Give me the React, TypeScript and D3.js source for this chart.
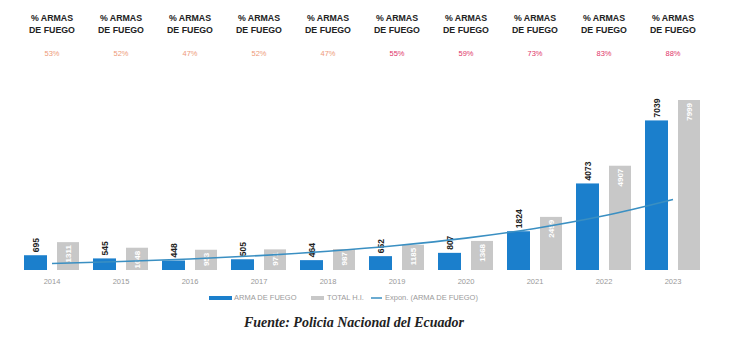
import React from "react";
import * as d3 from "d3";

const years = ["2014", "2015", "2016", "2017", "2018", "2019", "2020", "2021", "2022", "2023"];
const armaFuego = [695, 545, 448, 505, 464, 652, 807, 1824, 4073, 7039];
const totalHI = [1311, 1048, 953, 971, 987, 1185, 1368, 2499, 4907, 7999];
const pctLabels = ["53%", "52%", "47%", "52%", "47%", "55%", "59%", "73%", "83%", "88%"];
const pctColors = ["#ee9a7a", "#ee9a7a", "#ee9a7a", "#ee9a7a", "#ee9a7a", "#e0346a", "#e0346a", "#e0346a", "#e0346a", "#e0346a"];

const W = 750, H = 340;

export default function App() {
  const x = d3.scaleBand<string>().domain(years).range([17.5, 707.5]).padding(0);
  const y = d3.scaleLinear().domain([0, 8000]).range([270, 100]);
  const cx = (yr: string) => (x(yr) as number) + x.bandwidth() / 2;

  // exponential trendline (least squares on ln values), like Excel "Expon."
  const xs = armaFuego.map((_, i) => i + 1);
  const ls = armaFuego.map((v) => Math.log(v));
  const mx = d3.mean(xs) as number;
  const ml = d3.mean(ls) as number;
  const b = d3.sum(xs.map((xi, i) => (xi - mx) * (ls[i] - ml))) / d3.sum(xs.map((xi) => (xi - mx) ** 2));
  const a = ml - b * mx;
  const trend = years.map((yr, i) => [cx(yr), y(Math.exp(a + b * (i + 1)))] as [number, number]);
  const line = d3.line().curve(d3.curveMonotoneX)(trend) as string;

  const sans = "'Liberation Sans', Arial, sans-serif";

  return (
    <svg width={W} height={H} style={{ position: "absolute", left: 0, top: 0, background: "#fff" }}>
      {years.map((yr, i) => (
        <g key={"h" + yr}>
          <text x={cx(yr)} y={21} textAnchor="middle" fontFamily={sans} fontWeight="bold" fontSize={8.8} fill="#222">% ARMAS</text>
          <text x={cx(yr)} y={33} textAnchor="middle" fontFamily={sans} fontWeight="bold" fontSize={8.8} fill="#222">DE FUEGO</text>
          <text x={cx(yr)} y={56} textAnchor="middle" fontFamily={sans} fontSize={7.5} fill={pctColors[i]}>{pctLabels[i]}</text>
        </g>
      ))}
      {years.map((yr, i) => {
        const c = cx(yr);
        const bx = c - 28, gx = c + 5;
        const by = y(armaFuego[i]), gy = y(totalHI[i]);
        return (
          <g key={"b" + yr}>
            <rect x={bx} y={by} width={23} height={270 - by} fill="#1b7fcc" />
            <rect x={gx} y={gy} width={22} height={270 - gy} fill="#c8c8c8" />
            <text transform={`translate(${bx + 11.5 + 3},${by - 3}) rotate(-90)`} fontFamily={sans} fontWeight="bold" fontSize={8.5} fill="#222">{armaFuego[i]}</text>
            <text transform={`translate(${gx + 11 + 3},${gy + 3}) rotate(-90)`} textAnchor="end" fontFamily={sans} fontWeight="bold" fontSize={8} fill="#fff">{totalHI[i]}</text>
            <text x={c} y={284} textAnchor="middle" fontFamily={sans} fontSize={7.5} fill="#999">{yr}</text>
          </g>
        );
      })}
      <path d={line} fill="none" stroke="#3a8fc2" strokeWidth={1.6} />
      <g fontFamily={sans} fontSize={7.5} fill="#9a9a9a">
        <rect x={209} y={296} width={23} height={4} fill="#1b7fcc" />
        <text x={234} y={300}>ARMA DE FUEGO</text>
        <rect x={311} y={296} width={13} height={4} fill="#c8c8c8" />
        <text x={327} y={300}>TOTAL H.I.</text>
        <line x1={371} x2={382} y1={298} y2={298} stroke="#3a8fc2" strokeWidth={1.5} />
        <text x={385} y={300}>Expon. (ARMA DE FUEGO)</text>
      </g>
      <text x={354} y={327} textAnchor="middle" fontFamily="'Liberation Serif', 'Times New Roman', serif" fontStyle="italic" fontWeight="bold" fontSize={14} fill="#222">Fuente: Policia Nacional del Ecuador</text>
    </svg>
  );
}
